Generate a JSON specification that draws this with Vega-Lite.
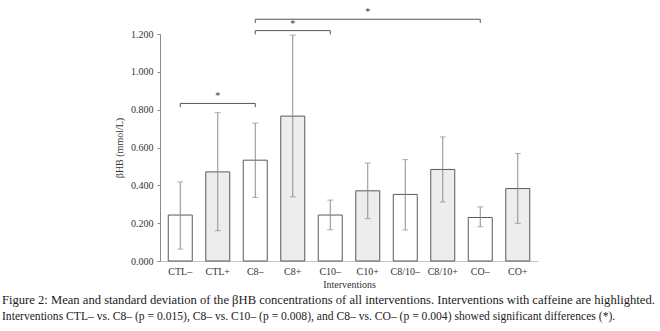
{
  "$schema": "https://vega.github.io/schema/vega-lite/v6.json",
  "autosize": "none",
  "width": 378,
  "height": 227,
  "padding": {"left": 160, "top": 34, "right": 122, "bottom": 70},
  "background": "white",
  "config": {
    "view": {"stroke": null},
    "font": "Liberation Serif",
    "axis": {"labelFont": "Liberation Serif", "titleFont": "Liberation Serif", "labelColor": "#333", "titleColor": "#333", "grid": false},
    "axisY": {"labelOverlap": false, "domainColor": "#8a8a8a", "tickColor": "#8a8a8a", "tickSize": 3, "labelPadding": 4, "labelFontSize": 10, "titleFontSize": 10, "titleFontWeight": "normal", "titlePadding": 6}
  },
  "title": {
    "text": "Figure 2: Mean and standard deviation of the βHB concentrations of all interventions. Interventions with caffeine are highlighted.",
    "subtitle": "Interventions CTL– vs. C8– (p = 0.015), C8– vs. C10– (p = 0.008), and C8– vs. CO– (p = 0.004) showed significant differences (*).",
    "orient": "bottom",
    "anchor": "start",
    "frame": "group",
    "dx": -158,
    "offset": 5,
    "font": "Liberation Serif",
    "fontSize": 12.6,
    "fontWeight": "normal",
    "color": "#222",
    "subtitleFont": "Liberation Serif",
    "subtitleFontSize": 11.6,
    "subtitleColor": "#222",
    "subtitlePadding": 4
  },
  "datasets": {
    "bars": [
      {"cat": "CTL–", "caf": "no", "mean": 0.243, "lo": 0.063, "hi": 0.418},
      {"cat": "CTL+", "caf": "yes", "mean": 0.471, "lo": 0.160, "hi": 0.784},
      {"cat": "C8–", "caf": "no", "mean": 0.533, "lo": 0.336, "hi": 0.729},
      {"cat": "C8+", "caf": "yes", "mean": 0.766, "lo": 0.339, "hi": 1.194},
      {"cat": "C10–", "caf": "no", "mean": 0.243, "lo": 0.165, "hi": 0.322},
      {"cat": "C10+", "caf": "yes", "mean": 0.371, "lo": 0.224, "hi": 0.518},
      {"cat": "C8/10–", "caf": "no", "mean": 0.352, "lo": 0.164, "hi": 0.536},
      {"cat": "C8/10+", "caf": "yes", "mean": 0.484, "lo": 0.312, "hi": 0.656},
      {"cat": "CO–", "caf": "no", "mean": 0.230, "lo": 0.181, "hi": 0.286},
      {"cat": "CO+", "caf": "yes", "mean": 0.383, "lo": 0.199, "hi": 0.568}
    ],
    "brackets": [
      {"a": "CTL–", "b": "C8–", "mid": "CTL+", "y": 0.833, "y0": 0.813, "star": "*"},
      {"a": "C8–", "b": "C10–", "mid": "C8+", "y": 1.218, "y0": 1.198, "star": "*"},
      {"a": "C8–", "b": "CO–", "mid": "C10+", "y": 1.278, "y0": 1.258, "star": "*"}
    ]
  },
  "encoding": {
    "x": {
      "field": "cat",
      "type": "nominal",
      "sort": ["CTL–", "CTL+", "C8–", "C8+", "C10–", "C10+", "C8/10–", "C8/10+", "CO–", "CO+"],
      "scale": {"domain": ["CTL–", "CTL+", "C8–", "C8+", "C10–", "C10+", "C8/10–", "C8/10+", "CO–", "CO+"], "paddingInner": 0.36, "paddingOuter": 0.22},
      "axis": {"title": "Interventions", "labelAngle": 0, "ticks": false, "domainColor": "#c4c4c4", "labelPadding": 5, "labelFontSize": 10, "titleFontSize": 10, "titleFontWeight": "normal", "titlePadding": 3}
    }
  },
  "layer": [
    {
      "data": {"name": "bars"},
      "mark": {"type": "bar", "stroke": "#5a5a5a", "strokeWidth": 1},
      "encoding": {
        "y": {
          "field": "mean",
          "type": "quantitative",
          "scale": {"domain": [0, 1.2], "nice": false},
          "axis": {"title": "βHB (mmol/L)", "values": [0, 0.2, 0.4, 0.6, 0.8, 1.0, 1.2], "format": ".3f", "labelOverlap": false}
        },
        "fill": {"field": "caf", "type": "nominal", "scale": {"domain": ["no", "yes"], "range": ["#ffffff", "#ededed"]}, "legend": null}
      }
    },
    {
      "data": {"name": "bars"},
      "mark": {"type": "rule", "color": "#8c8c8c", "strokeWidth": 1},
      "encoding": {
        "y": {"field": "lo", "type": "quantitative", "axis": {"title": "βHB (mmol/L)", "values": [0, 0.2, 0.4, 0.6, 0.8, 1.0, 1.2], "format": ".3f", "labelOverlap": false}},
        "y2": {"field": "hi"}
      }
    },
    {
      "data": {"name": "bars"},
      "mark": {"type": "tick", "color": "#8c8c8c", "size": 6, "thickness": 1, "orient": "horizontal"},
      "encoding": {"y": {"field": "hi", "type": "quantitative", "axis": {"title": "βHB (mmol/L)", "values": [0, 0.2, 0.4, 0.6, 0.8, 1.0, 1.2], "format": ".3f", "labelOverlap": false}}}
    },
    {
      "data": {"name": "bars"},
      "mark": {"type": "tick", "color": "#8c8c8c", "size": 6, "thickness": 1, "orient": "horizontal"},
      "encoding": {"y": {"field": "lo", "type": "quantitative", "axis": {"title": "βHB (mmol/L)", "values": [0, 0.2, 0.4, 0.6, 0.8, 1.0, 1.2], "format": ".3f", "labelOverlap": false}}}
    },
    {
      "data": {"name": "brackets"},
      "mark": {"type": "rule", "color": "#555", "strokeWidth": 1},
      "encoding": {
        "x": {"field": "a", "type": "nominal"},
        "x2": {"field": "b"},
        "y": {"field": "y", "type": "quantitative", "axis": {"title": "βHB (mmol/L)", "values": [0, 0.2, 0.4, 0.6, 0.8, 1.0, 1.2], "format": ".3f", "labelOverlap": false}}
      }
    },
    {
      "data": {"name": "brackets"},
      "mark": {"type": "rule", "color": "#555", "strokeWidth": 1},
      "encoding": {
        "x": {"field": "a", "type": "nominal"},
        "y": {"field": "y", "type": "quantitative", "axis": {"title": "βHB (mmol/L)", "values": [0, 0.2, 0.4, 0.6, 0.8, 1.0, 1.2], "format": ".3f", "labelOverlap": false}},
        "y2": {"field": "y0"}
      }
    },
    {
      "data": {"name": "brackets"},
      "mark": {"type": "rule", "color": "#555", "strokeWidth": 1},
      "encoding": {
        "x": {"field": "b", "type": "nominal"},
        "y": {"field": "y", "type": "quantitative", "axis": {"title": "βHB (mmol/L)", "values": [0, 0.2, 0.4, 0.6, 0.8, 1.0, 1.2], "format": ".3f", "labelOverlap": false}},
        "y2": {"field": "y0"}
      }
    },
    {
      "data": {"name": "brackets"},
      "mark": {"type": "text", "color": "#333", "fontSize": 10, "baseline": "bottom", "dy": -2, "font": "Liberation Serif"},
      "encoding": {
        "x": {"field": "mid", "type": "nominal"},
        "y": {"field": "y", "type": "quantitative", "axis": {"title": "βHB (mmol/L)", "values": [0, 0.2, 0.4, 0.6, 0.8, 1.0, 1.2], "format": ".3f", "labelOverlap": false}},
        "text": {"field": "star"}
      }
    }
  ]
}
